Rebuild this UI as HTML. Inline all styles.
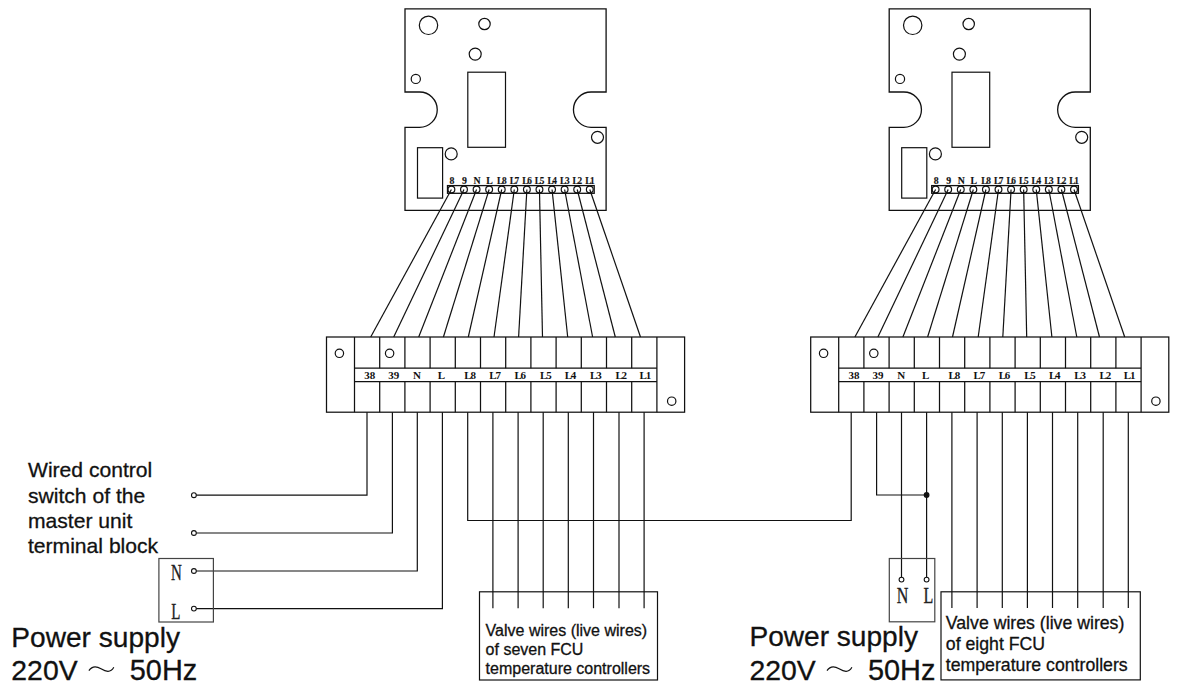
<!DOCTYPE html>
<html><head><meta charset="utf-8"><style>
html,body{margin:0;padding:0;background:#fff;width:1189px;height:697px;overflow:hidden}
svg{display:block}
.tl{font-family:"Liberation Serif",serif;font-weight:bold;font-size:9.8px;text-anchor:middle;fill:#111;stroke:#111;stroke-width:0.15px;letter-spacing:-1px}
.bl{font-family:"Liberation Serif",serif;font-weight:bold;font-size:11px;text-anchor:middle;fill:#111;stroke:none}
.sans text{font-family:"Liberation Sans",sans-serif;fill:#111;stroke:#111;stroke-width:0.3px}
.nl text{font-family:"Liberation Serif",serif;fill:#222;stroke:#222;stroke-width:0.35px;text-anchor:middle}
</style></head><body>
<svg width="1189" height="697" viewBox="0 0 1189 697">
<g fill="none" stroke="#111" stroke-width="1.2">
<path d="M405,8.8 H606.1 V92 H591.1 A17.65,17.65 0 0 0 591.1,127.3 H606.1 V210.3 H405 V127.3 H419.6 A17.65,17.65 0 0 0 419.6,92 H405 Z" stroke-width="1.3"/>
<circle cx="428.5" cy="25.3" r="9.2"/>
<circle cx="484.5" cy="24" r="5.7"/>
<circle cx="475.2" cy="54.1" r="6"/>
<circle cx="415.8" cy="78.9" r="4.6"/>
<circle cx="451.2" cy="153.9" r="6"/>
<circle cx="597.5" cy="137.3" r="6"/>
<rect x="467.8" y="72.2" width="37.7" height="75.1"/>
<rect x="417.5" y="147.7" width="25.1" height="50.4"/>
<rect x="447.5" y="185.6" width="146.7" height="7.7" stroke-width="1.3"/>
<circle cx="451.4" cy="189.5" r="3.4"/>
<line x1="451.4" y1="189.5" x2="370.7" y2="337"/>
<text x="451.4" y="183.7" class="tl">8</text>
<circle cx="463.98" cy="189.5" r="3.4"/>
<line x1="463.98" y1="189.5" x2="393.7" y2="337"/>
<text x="463.98" y="183.7" class="tl">9</text>
<circle cx="476.56" cy="189.5" r="3.4"/>
<line x1="476.56" y1="189.5" x2="418.7" y2="337"/>
<text x="476.56" y="183.7" class="tl">N</text>
<circle cx="489.14" cy="189.5" r="3.4"/>
<line x1="489.14" y1="189.5" x2="443.4" y2="337"/>
<text x="489.14" y="183.7" class="tl">L</text>
<circle cx="501.72" cy="189.5" r="3.4"/>
<line x1="501.72" y1="189.5" x2="468.3" y2="337"/>
<text x="501.22" y="183.7" class="tl" style="font-size:9.3px;letter-spacing:-1.3px">L8</text>
<circle cx="514.3" cy="189.5" r="3.4"/>
<line x1="514.3" y1="189.5" x2="494" y2="337"/>
<text x="513.8" y="183.7" class="tl" style="font-size:9.3px;letter-spacing:-1.3px">L7</text>
<circle cx="526.88" cy="189.5" r="3.4"/>
<line x1="526.88" y1="189.5" x2="518.6" y2="337"/>
<text x="526.38" y="183.7" class="tl" style="font-size:9.3px;letter-spacing:-1.3px">L6</text>
<circle cx="539.46" cy="189.5" r="3.4"/>
<line x1="539.46" y1="189.5" x2="542.5" y2="337"/>
<text x="538.96" y="183.7" class="tl" style="font-size:9.3px;letter-spacing:-1.3px">L5</text>
<circle cx="552.04" cy="189.5" r="3.4"/>
<line x1="552.04" y1="189.5" x2="567.7" y2="337"/>
<text x="551.54" y="183.7" class="tl" style="font-size:9.3px;letter-spacing:-1.3px">L4</text>
<circle cx="564.62" cy="189.5" r="3.4"/>
<line x1="564.62" y1="189.5" x2="592.6" y2="337"/>
<text x="564.12" y="183.7" class="tl" style="font-size:9.3px;letter-spacing:-1.3px">L3</text>
<circle cx="577.2" cy="189.5" r="3.4"/>
<line x1="577.2" y1="189.5" x2="615.3" y2="337"/>
<text x="576.7" y="183.7" class="tl" style="font-size:9.3px;letter-spacing:-1.3px">L2</text>
<circle cx="589.78" cy="189.5" r="3.4"/>
<line x1="589.78" y1="189.5" x2="640.5" y2="337"/>
<text x="589.28" y="183.7" class="tl" style="font-size:9.3px;letter-spacing:-1.3px">L1</text>
<path d="M889.2,8.8 H1090.3 V92 H1075.3 A17.65,17.65 0 0 0 1075.3,127.3 H1090.3 V210.3 H889.2 V127.3 H903.8 A17.65,17.65 0 0 0 903.8,92 H889.2 Z" stroke-width="1.3"/>
<circle cx="912.7" cy="25.3" r="9.2"/>
<circle cx="968.7" cy="24" r="5.7"/>
<circle cx="959.4" cy="54.1" r="6"/>
<circle cx="900" cy="78.9" r="4.6"/>
<circle cx="935.4" cy="153.9" r="6"/>
<circle cx="1081.7" cy="137.3" r="6"/>
<rect x="952" y="72.2" width="37.7" height="75.1"/>
<rect x="901.7" y="147.7" width="25.1" height="50.4"/>
<rect x="931.7" y="185.6" width="146.7" height="7.7" stroke-width="1.3"/>
<circle cx="935.6" cy="189.5" r="3.4"/>
<line x1="935.6" y1="189.5" x2="854.9" y2="337"/>
<text x="935.6" y="183.7" class="tl">8</text>
<circle cx="948.18" cy="189.5" r="3.4"/>
<line x1="948.18" y1="189.5" x2="877.9" y2="337"/>
<text x="948.18" y="183.7" class="tl">9</text>
<circle cx="960.76" cy="189.5" r="3.4"/>
<line x1="960.76" y1="189.5" x2="902.9" y2="337"/>
<text x="960.76" y="183.7" class="tl">N</text>
<circle cx="973.34" cy="189.5" r="3.4"/>
<line x1="973.34" y1="189.5" x2="927.6" y2="337"/>
<text x="973.34" y="183.7" class="tl">L</text>
<circle cx="985.92" cy="189.5" r="3.4"/>
<line x1="985.92" y1="189.5" x2="952.5" y2="337"/>
<text x="985.42" y="183.7" class="tl" style="font-size:9.3px;letter-spacing:-1.3px">L8</text>
<circle cx="998.5" cy="189.5" r="3.4"/>
<line x1="998.5" y1="189.5" x2="978.2" y2="337"/>
<text x="998" y="183.7" class="tl" style="font-size:9.3px;letter-spacing:-1.3px">L7</text>
<circle cx="1011.08" cy="189.5" r="3.4"/>
<line x1="1011.08" y1="189.5" x2="1002.8" y2="337"/>
<text x="1010.58" y="183.7" class="tl" style="font-size:9.3px;letter-spacing:-1.3px">L6</text>
<circle cx="1023.66" cy="189.5" r="3.4"/>
<line x1="1023.66" y1="189.5" x2="1026.7" y2="337"/>
<text x="1023.16" y="183.7" class="tl" style="font-size:9.3px;letter-spacing:-1.3px">L5</text>
<circle cx="1036.24" cy="189.5" r="3.4"/>
<line x1="1036.24" y1="189.5" x2="1051.9" y2="337"/>
<text x="1035.74" y="183.7" class="tl" style="font-size:9.3px;letter-spacing:-1.3px">L4</text>
<circle cx="1048.82" cy="189.5" r="3.4"/>
<line x1="1048.82" y1="189.5" x2="1076.8" y2="337"/>
<text x="1048.32" y="183.7" class="tl" style="font-size:9.3px;letter-spacing:-1.3px">L3</text>
<circle cx="1061.4" cy="189.5" r="3.4"/>
<line x1="1061.4" y1="189.5" x2="1099.5" y2="337"/>
<text x="1060.9" y="183.7" class="tl" style="font-size:9.3px;letter-spacing:-1.3px">L2</text>
<circle cx="1073.98" cy="189.5" r="3.4"/>
<line x1="1073.98" y1="189.5" x2="1124.7" y2="337"/>
<text x="1073.48" y="183.7" class="tl" style="font-size:9.3px;letter-spacing:-1.3px">L1</text>
<rect x="326.5" y="337" width="358.1" height="75.2" stroke-width="1.25"/>
<line x1="354.5" y1="337" x2="354.5" y2="412.2" stroke-width="1.25"/>
<line x1="379.7" y1="337" x2="379.7" y2="368.2" stroke-width="1.25"/>
<line x1="379.7" y1="381.5" x2="379.7" y2="412.2" stroke-width="1.25"/>
<line x1="404.9" y1="337" x2="404.9" y2="368.2" stroke-width="1.25"/>
<line x1="404.9" y1="381.5" x2="404.9" y2="412.2" stroke-width="1.25"/>
<line x1="430.1" y1="337" x2="430.1" y2="368.2" stroke-width="1.25"/>
<line x1="430.1" y1="381.5" x2="430.1" y2="412.2" stroke-width="1.25"/>
<line x1="455.3" y1="337" x2="455.3" y2="368.2" stroke-width="1.25"/>
<line x1="455.3" y1="381.5" x2="455.3" y2="412.2" stroke-width="1.25"/>
<line x1="480.5" y1="337" x2="480.5" y2="368.2" stroke-width="1.25"/>
<line x1="480.5" y1="381.5" x2="480.5" y2="412.2" stroke-width="1.25"/>
<line x1="505.7" y1="337" x2="505.7" y2="368.2" stroke-width="1.25"/>
<line x1="505.7" y1="381.5" x2="505.7" y2="412.2" stroke-width="1.25"/>
<line x1="530.9" y1="337" x2="530.9" y2="368.2" stroke-width="1.25"/>
<line x1="530.9" y1="381.5" x2="530.9" y2="412.2" stroke-width="1.25"/>
<line x1="556.1" y1="337" x2="556.1" y2="368.2" stroke-width="1.25"/>
<line x1="556.1" y1="381.5" x2="556.1" y2="412.2" stroke-width="1.25"/>
<line x1="581.3" y1="337" x2="581.3" y2="368.2" stroke-width="1.25"/>
<line x1="581.3" y1="381.5" x2="581.3" y2="412.2" stroke-width="1.25"/>
<line x1="606.5" y1="337" x2="606.5" y2="368.2" stroke-width="1.25"/>
<line x1="606.5" y1="381.5" x2="606.5" y2="412.2" stroke-width="1.25"/>
<line x1="631.7" y1="337" x2="631.7" y2="368.2" stroke-width="1.25"/>
<line x1="631.7" y1="381.5" x2="631.7" y2="412.2" stroke-width="1.25"/>
<line x1="656.9" y1="337" x2="656.9" y2="412.2" stroke-width="1.25"/>
<line x1="354.5" y1="368.2" x2="656.9" y2="368.2" stroke-width="1.25"/>
<line x1="354.5" y1="381.5" x2="656.9" y2="381.5" stroke-width="1.25"/>
<circle cx="339.4" cy="353.3" r="4.2"/>
<circle cx="389.6" cy="353.3" r="4.2"/>
<circle cx="671.7" cy="401.2" r="4.2"/>
<text x="369.85" y="379" class="bl">38</text>
<text x="393.7" y="379" class="bl">39</text>
<text x="417.05" y="379" class="bl">N</text>
<text x="441.4" y="379" class="bl">L</text>
<text x="469.55" y="379" class="bl" style="letter-spacing:-1.2px">L8</text>
<text x="494.55" y="379" class="bl" style="letter-spacing:-1.2px">L7</text>
<text x="519.65" y="379" class="bl" style="letter-spacing:-1.2px">L6</text>
<text x="545.25" y="379" class="bl" style="letter-spacing:-1.2px">L5</text>
<text x="569.95" y="379" class="bl" style="letter-spacing:-1.2px">L4</text>
<text x="595.3" y="379" class="bl" style="letter-spacing:-1.2px">L3</text>
<text x="620.6" y="379" class="bl" style="letter-spacing:-1.2px">L2</text>
<text x="644.8" y="379" class="bl" style="letter-spacing:-1.2px">L1</text>
<rect x="810.7" y="337" width="358.1" height="75.2" stroke-width="1.25"/>
<line x1="838.7" y1="337" x2="838.7" y2="412.2" stroke-width="1.25"/>
<line x1="863.9" y1="337" x2="863.9" y2="368.2" stroke-width="1.25"/>
<line x1="863.9" y1="381.5" x2="863.9" y2="412.2" stroke-width="1.25"/>
<line x1="889.1" y1="337" x2="889.1" y2="368.2" stroke-width="1.25"/>
<line x1="889.1" y1="381.5" x2="889.1" y2="412.2" stroke-width="1.25"/>
<line x1="914.3" y1="337" x2="914.3" y2="368.2" stroke-width="1.25"/>
<line x1="914.3" y1="381.5" x2="914.3" y2="412.2" stroke-width="1.25"/>
<line x1="939.5" y1="337" x2="939.5" y2="368.2" stroke-width="1.25"/>
<line x1="939.5" y1="381.5" x2="939.5" y2="412.2" stroke-width="1.25"/>
<line x1="964.7" y1="337" x2="964.7" y2="368.2" stroke-width="1.25"/>
<line x1="964.7" y1="381.5" x2="964.7" y2="412.2" stroke-width="1.25"/>
<line x1="989.9" y1="337" x2="989.9" y2="368.2" stroke-width="1.25"/>
<line x1="989.9" y1="381.5" x2="989.9" y2="412.2" stroke-width="1.25"/>
<line x1="1015.1" y1="337" x2="1015.1" y2="368.2" stroke-width="1.25"/>
<line x1="1015.1" y1="381.5" x2="1015.1" y2="412.2" stroke-width="1.25"/>
<line x1="1040.3" y1="337" x2="1040.3" y2="368.2" stroke-width="1.25"/>
<line x1="1040.3" y1="381.5" x2="1040.3" y2="412.2" stroke-width="1.25"/>
<line x1="1065.5" y1="337" x2="1065.5" y2="368.2" stroke-width="1.25"/>
<line x1="1065.5" y1="381.5" x2="1065.5" y2="412.2" stroke-width="1.25"/>
<line x1="1090.7" y1="337" x2="1090.7" y2="368.2" stroke-width="1.25"/>
<line x1="1090.7" y1="381.5" x2="1090.7" y2="412.2" stroke-width="1.25"/>
<line x1="1115.9" y1="337" x2="1115.9" y2="368.2" stroke-width="1.25"/>
<line x1="1115.9" y1="381.5" x2="1115.9" y2="412.2" stroke-width="1.25"/>
<line x1="1141.1" y1="337" x2="1141.1" y2="412.2" stroke-width="1.25"/>
<line x1="838.7" y1="368.2" x2="1141.1" y2="368.2" stroke-width="1.25"/>
<line x1="838.7" y1="381.5" x2="1141.1" y2="381.5" stroke-width="1.25"/>
<circle cx="823.6" cy="353.3" r="4.2"/>
<circle cx="873.8" cy="353.3" r="4.2"/>
<circle cx="1155.9" cy="401.2" r="4.2"/>
<text x="854.05" y="379" class="bl">38</text>
<text x="877.9" y="379" class="bl">39</text>
<text x="901.25" y="379" class="bl">N</text>
<text x="925.6" y="379" class="bl">L</text>
<text x="953.75" y="379" class="bl" style="letter-spacing:-1.2px">L8</text>
<text x="978.75" y="379" class="bl" style="letter-spacing:-1.2px">L7</text>
<text x="1003.85" y="379" class="bl" style="letter-spacing:-1.2px">L6</text>
<text x="1029.45" y="379" class="bl" style="letter-spacing:-1.2px">L5</text>
<text x="1054.15" y="379" class="bl" style="letter-spacing:-1.2px">L4</text>
<text x="1079.5" y="379" class="bl" style="letter-spacing:-1.2px">L3</text>
<text x="1104.8" y="379" class="bl" style="letter-spacing:-1.2px">L2</text>
<text x="1129" y="379" class="bl" style="letter-spacing:-1.2px">L1</text>
<polyline points="367,412.2 367,495.2 193.9,495.2"/>
<circle cx="193.9" cy="495.2" r="2.4" fill="#fff" stroke-width="1.1"/>
<polyline points="392.4,412.2 392.4,533 193.9,533"/>
<circle cx="193.9" cy="533" r="2.4" fill="#fff" stroke-width="1.1"/>
<polyline points="417.3,412.2 417.3,571 193.9,571"/>
<circle cx="193.9" cy="571" r="2.4" fill="#fff" stroke-width="1.1"/>
<polyline points="442.4,412.2 442.4,608.6 193.9,608.6"/>
<circle cx="193.9" cy="608.6" r="2.4" fill="#fff" stroke-width="1.1"/>
<polyline points="467.7,412.2 467.7,520.5 851.2,520.5 851.2,412.2"/>
<line x1="492.9" y1="412.2" x2="492.9" y2="608.2"/>
<line x1="518.1" y1="412.2" x2="518.1" y2="608.2"/>
<line x1="543.2" y1="412.2" x2="543.2" y2="608.2"/>
<line x1="568.3" y1="412.2" x2="568.3" y2="608.2"/>
<line x1="593.5" y1="412.2" x2="593.5" y2="608.2"/>
<line x1="619" y1="412.2" x2="619" y2="608.2"/>
<line x1="644.1" y1="412.2" x2="644.1" y2="608.2"/>
<rect x="158.9" y="558.5" width="54.5" height="63.5" stroke="#444"/>
<rect x="479.5" y="591.8" width="178" height="88.2"/>
<polyline points="876.6,412.2 876.6,495 926.6,495"/>
<circle cx="926.6" cy="495" r="2.3" fill="#111"/>
<line x1="901.5" y1="412.2" x2="901.5" y2="579.6"/>
<circle cx="901.5" cy="579.6" r="2.4" fill="#fff" stroke-width="1.1"/>
<line x1="926.6" y1="412.2" x2="926.6" y2="579.6"/>
<circle cx="926.6" cy="579.6" r="2.4" fill="#fff" stroke-width="1.1"/>
<line x1="951.9" y1="412.2" x2="951.9" y2="608"/>
<line x1="977.1" y1="412.2" x2="977.1" y2="608"/>
<line x1="1002.3" y1="412.2" x2="1002.3" y2="608"/>
<line x1="1027.4" y1="412.2" x2="1027.4" y2="608"/>
<line x1="1052.5" y1="412.2" x2="1052.5" y2="608"/>
<line x1="1077.7" y1="412.2" x2="1077.7" y2="608"/>
<line x1="1103.2" y1="412.2" x2="1103.2" y2="608"/>
<line x1="1128.3" y1="412.2" x2="1128.3" y2="608"/>
<rect x="889.3" y="558.5" width="45.5" height="63.3" stroke="#444"/>
<rect x="941" y="591.8" width="199.3" height="88.1"/>
</g>
<g class="sans">
<text x="28" y="476.8" font-size="21.1">Wired control</text>
<text x="28" y="502.7" font-size="21.1">switch of the</text>
<text x="28" y="528.1" font-size="21.1">master unit</text>
<text x="28" y="552.6" font-size="21.1">terminal block</text>
<text x="11.3" y="646.7" font-size="28.1">Power supply</text>
<text x="11.3" y="679.6" font-size="28.4">220V</text>
<text x="129.8" y="679.6" font-size="28.9">50Hz</text>
<path d="M88.9,670.7 C92,666 96,665.8 101,668.8 S110.5,673 113.8,667.2" fill="none" stroke="#111" stroke-width="1.2"/>
<text x="749.4" y="645.9" font-size="28.1">Power supply</text>
<text x="749.4" y="679.8" font-size="28.4">220V</text>
<text x="867.9" y="679.8" font-size="28.9">50Hz</text>
<path d="M827,670.7 C830.1,666 834.1,665.8 839.1,668.8 S848.6,673 851.9,667.2" fill="none" stroke="#111" stroke-width="1.2"/>
<text x="485.6" y="636.3" font-size="16">Valve wires (live wires)</text>
<text x="485.6" y="655.3" font-size="16">of seven FCU</text>
<text x="485.6" y="674" font-size="16">temperature controllers</text>
<text x="945.8" y="629.3" font-size="17.7">Valve wires (live wires)</text>
<text x="945.8" y="650.1" font-size="17.7">of eight FCU</text>
<text x="945.8" y="670.5" font-size="17.7">temperature controllers</text>
</g>
<g class="nl">
<text transform="translate(176.3,579.8) scale(0.64,1)" font-size="23.4">N</text>
<text transform="translate(175.9,618.9) scale(0.64,1)" font-size="23.4">L</text>
<text transform="translate(902.6,602.8) scale(0.72,1)" font-size="22.3">N</text>
<text transform="translate(928.3,602.8) scale(0.72,1)" font-size="22.3">L</text>
</g>
</svg>
</body></html>
